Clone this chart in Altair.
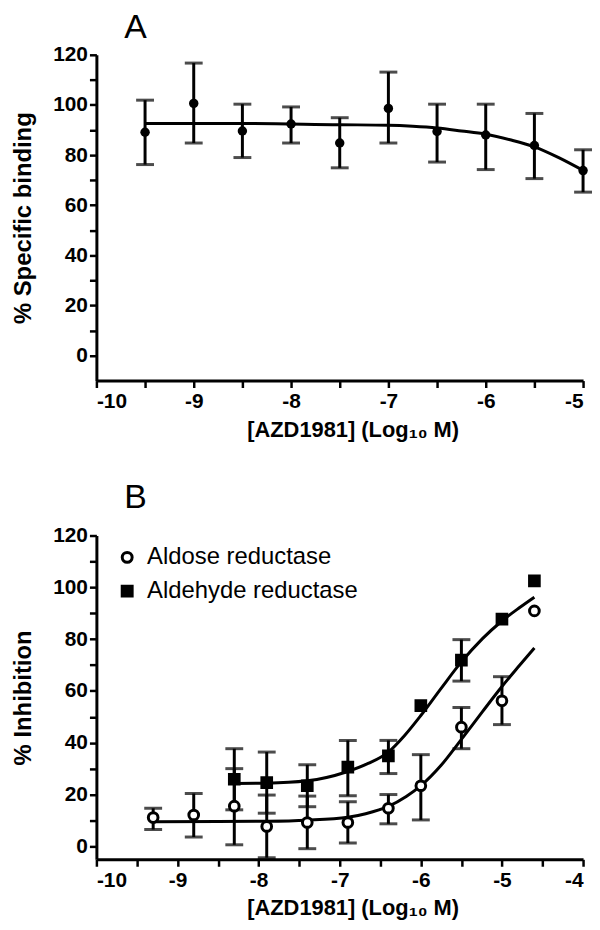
import altair as alt
import pandas as pd

FONT = "Liberation Sans"

# ---- Panel A data ----
a_x = [-9.5, -9.0, -8.5, -8.0, -7.5, -7.0, -6.5, -6.0, -5.5, -5.0]
a_mean = [89.1, 100.6, 89.6, 92.4, 84.8, 98.6, 89.4, 88.0, 83.8, 73.8]
a_hi = [101.9, 116.7, 100.3, 99.2, 94.9, 113.1, 100.3, 100.3, 96.6, 82.1]
a_lo = [76.2, 84.8, 79.0, 84.8, 74.9, 84.8, 77.2, 74.2, 70.6, 65.2]
a_curve_x = [-9.5, -8.5, -7.5, -7.0, -6.75, -6.5, -6.25, -6.0, -5.75, -5.5, -5.25, -5.0]
a_curve_y = [92.6, 92.6, 92.1, 91.9, 91.5, 90.8, 89.6, 88.3, 86.1, 83.3, 79.0, 73.9]

# ---- Panel B data ----
series_names = ["Aldose reductase", "Aldehyde reductase"]
ar_x = [-9.3, -8.8, -8.3, -7.9, -7.4, -6.9, -6.4, -6.0, -5.5, -5.0, -4.6]
ar_mean = [11.1, 12.1, 15.5, 7.7, 9.2, 9.2, 14.7, 23.4, 46.0, 56.2, 90.9]
ar_hi = [14.7, 20.4, 30.0, 19.8, 19.4, 17.2, 20.0, 35.4, 53.6, 65.5, None]
ar_lo = [6.5, 3.6, 0.6, -4.4, -0.9, 1.3, 8.7, 10.2, 37.7, 47.0, None]
ald_x = [-8.3, -7.9, -7.4, -6.9, -6.4, -6.0, -5.5, -5.0, -4.6]
ald_mean = [25.9, 24.6, 23.4, 30.6, 34.9, 54.3, 71.9, 87.7, 102.5]
ald_hi = [37.7, 36.4, 31.5, 40.9, 40.9, None, 79.8, None, None]
ald_lo = [14.1, 12.8, 15.3, 19.5, 28.1, None, 63.8, None, None]
ar_curve_x = [-9.3, -8.5, -7.9, -7.4, -6.9, -6.68, -6.4, -6.18, -6.0, -5.75, -5.5, -5.24, -5.0, -4.79, -4.6]
ar_curve_y = [9.5, 9.6, 9.7, 10.1, 11.2, 12.6, 15.4, 19.2, 23.4, 31.3, 41.3, 52.0, 61.7, 69.6, 76.6]
ald_curve_x = [-8.3, -7.9, -7.4, -6.92, -6.65, -6.4, -6.2, -6.0, -5.75, -5.5, -5.24, -5.0, -4.79, -4.6]
ald_curve_y = [24.3, 24.4, 25.3, 28.7, 32.0, 36.4, 42.8, 50.5, 61.0, 71.2, 80.2, 87.0, 92.0, 96.2]

x_title = "[AZD1981] (Log\u2081\u2080 M)"

df_a = pd.DataFrame({"x": a_x, "mean": a_mean, "hi": a_hi, "lo": a_lo})
df_a_curve = pd.DataFrame({"x": a_curve_x, "y": a_curve_y})

df_b = pd.concat([
    pd.DataFrame({"x": ar_x, "mean": ar_mean, "hi": ar_hi, "lo": ar_lo, "series": series_names[0]}),
    pd.DataFrame({"x": ald_x, "mean": ald_mean, "hi": ald_hi, "lo": ald_lo, "series": series_names[1]}),
], ignore_index=True)
df_b_err = df_b.dropna(subset=["hi", "lo"])
df_b_curve = pd.concat([
    pd.DataFrame({"x": ar_curve_x, "y": ar_curve_y, "series": series_names[0]}),
    pd.DataFrame({"x": ald_curve_x, "y": ald_curve_y, "series": series_names[1]}),
], ignore_index=True)

axis_common = dict(
    grid=False, domainColor="black", domainWidth=3, tickColor="black",
    tickWidth=2.5, tickSize=7, labelColor="black", labelFont=FONT,
    labelFontSize=21, labelFontWeight="bold", titleFont=FONT,
    titleFontWeight="bold", titleColor="black",
)


def x_axis(values):
    return alt.Axis(
        title=x_title, values=values, titleFontSize=22, labelPadding=3,
        titlePadding=8, titleX=258, titleAlign="center",
        labelExpr="datum.value % 1 == 0 ? '' + datum.value : ''",
        **axis_common,
    )


def y_axis(title):
    return alt.Axis(
        title=title, values=list(range(0, 121, 10)), titleFontSize=24,
        labelPadding=2, titlePadding=17,
        labelExpr="datum.value % 20 == 0 ? '' + datum.value : ''",
        **axis_common,
    )


def panel_title(text, offset):
    return alt.TitleParams(text, anchor="start", frame="group", fontSize=34,
                           font=FONT, fontWeight="normal", color="black",
                           dx=28, offset=offset)


# ---------- Panel A ----------
xa = alt.X("x:Q", scale=alt.Scale(domain=[-10, -5], nice=False, zero=False),
           axis=x_axis([-10 + 0.5 * i for i in range(11)]))
ya_scale = alt.Scale(domain=[-10, 120], nice=False, zero=False)
ya_axis = y_axis("% Specific binding")

a_rules = alt.Chart(df_a).mark_rule(color="black", strokeWidth=3).encode(
    x=xa, y=alt.Y("lo:Q", scale=ya_scale, axis=ya_axis), y2="hi:Q")
a_cap_hi = alt.Chart(df_a).mark_tick(color="black", orient="horizontal", size=18, thickness=3).encode(
    x=xa, y=alt.Y("hi:Q", scale=ya_scale, axis=ya_axis))
a_cap_lo = alt.Chart(df_a).mark_tick(color="black", orient="horizontal", size=18, thickness=3).encode(
    x=xa, y=alt.Y("lo:Q", scale=ya_scale, axis=ya_axis))
a_line = alt.Chart(df_a_curve).mark_line(color="black", strokeWidth=3, interpolate="monotone").encode(
    x=xa, y=alt.Y("y:Q", scale=ya_scale, axis=ya_axis))
a_pts = alt.Chart(df_a).mark_circle(color="black", size=90, opacity=1).encode(
    x=xa, y=alt.Y("mean:Q", scale=ya_scale, axis=ya_axis))

chart_a = alt.layer(a_rules, a_cap_hi, a_cap_lo, a_line, a_pts).properties(
    width=490, height=328, title=panel_title("A", -1),
)

# ---------- Panel B ----------
xb = alt.X("x:Q", scale=alt.Scale(domain=[-10, -4], nice=False, zero=False),
           axis=x_axis([-10 + 0.5 * i for i in range(13)]))
yb_scale = alt.Scale(domain=[-5, 120], nice=False, zero=False)
yb_axis = y_axis("% Inhibition")

b_rules = alt.Chart(df_b_err).mark_rule(color="black", strokeWidth=3).encode(
    x=xb, y=alt.Y("lo:Q", scale=yb_scale, axis=yb_axis), y2="hi:Q")
b_cap_hi = alt.Chart(df_b_err).mark_tick(color="black", orient="horizontal", size=18, thickness=3).encode(
    x=xb, y=alt.Y("hi:Q", scale=yb_scale, axis=yb_axis))
b_cap_lo = alt.Chart(df_b_err).mark_tick(color="black", orient="horizontal", size=18, thickness=3).encode(
    x=xb, y=alt.Y("lo:Q", scale=yb_scale, axis=yb_axis))
b_line = alt.Chart(df_b_curve).mark_line(color="black", strokeWidth=3, interpolate="monotone").encode(
    x=xb, y=alt.Y("y:Q", scale=yb_scale, axis=yb_axis), detail="series:N")

legend = alt.Legend(
    title=None, orient="none", legendX=19, legendY=10, labelFont=FONT,
    labelFontSize=24, labelColor="black", symbolSize=100, symbolStrokeWidth=3,
    rowPadding=10, labelOffset=8, symbolStrokeColor="black", labelLimit=400,
    padding=0,
)
b_pts = alt.Chart(df_b).mark_point(size=95, strokeWidth=3, opacity=1).encode(
    x=xb, y=alt.Y("mean:Q", scale=yb_scale, axis=yb_axis),
    shape=alt.Shape("series:N", scale=alt.Scale(domain=series_names, range=["circle", "square"]), legend=legend),
    fill=alt.Fill("series:N", scale=alt.Scale(domain=series_names, range=["white", "black"]), legend=legend),
    stroke=alt.Stroke("series:N", scale=alt.Scale(domain=series_names, range=["black", "black"]), legend=legend),
)

chart_b = alt.layer(b_rules, b_cap_hi, b_cap_lo, b_line, b_pts).properties(
    width=490, height=326, title=panel_title("B", 10),
)

chart = alt.vconcat(chart_a, chart_b, spacing=41).resolve_legend(
    shape="independent", fill="independent", stroke="independent"
).properties(
    padding={"left": 3, "top": 0, "right": 0, "bottom": 0},
    background="white",
).configure_view(stroke=None)

chart.save("out.html", embed_options={"renderer": "svg", "actions": False})
